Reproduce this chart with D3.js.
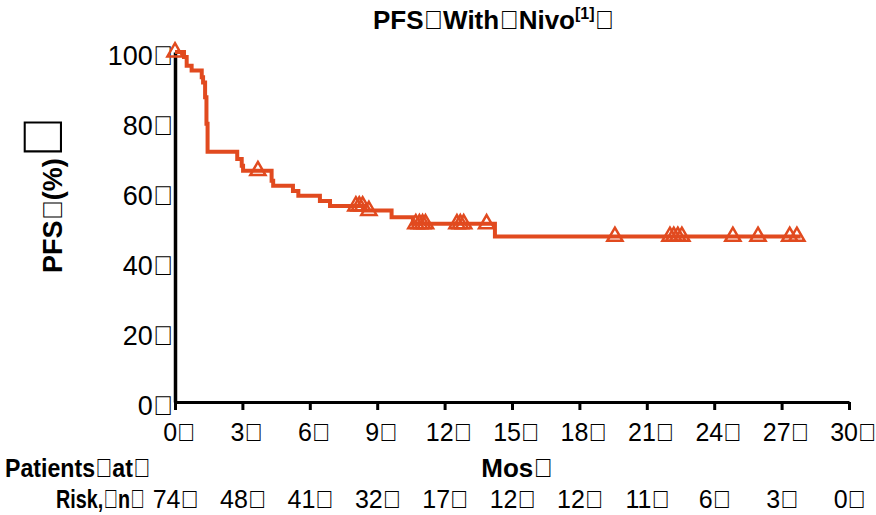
<!DOCTYPE html>
<html>
<head>
<meta charset="utf-8">
<script src="https://cdn.jsdelivr.net/npm/d3@7"></script>
<style>
  body { margin: 0; background: #fff; }
  svg text { font-family: "Liberation Sans", Arial, sans-serif; fill: #000; }
</style>
</head>
<body>
<div id="chart"></div>
<script>
// the source slide shows a box glyph where spaces used to be
var T = "\uF020";

var xTicks = [0, 3, 6, 9, 12, 15, 18, 21, 24, 27, 30];
var yTicks = [0, 20, 40, 60, 80, 100];
var atRisk = [74, 48, 41, 32, 17, 12, 12, 11, 6, 3, 0];

// Kaplan-Meier steps: month, PFS %
var stepTimes = [0, 0.40, 0.52, 0.74, 1.19, 1.25, 1.34, 1.40, 1.45, 2.77, 2.97, 3.03, 4.30, 4.37, 5.25, 5.49, 6.45, 6.90, 8.45, 9.64, 10.59, 14.24];
var stepPFS   = [100, 98.6, 96.1, 94.7, 92.8, 91.3, 87.1, 79.5, 71.5, 69.4, 67.5, 66.1, 63.2, 61.8, 60.3, 58.9, 57.4, 56.0, 54.7, 52.8, 50.9, 47.3];
var censorTimes = [0, 3.69, 8.05, 8.2, 8.35, 8.63, 10.72, 10.88, 11.02, 11.15, 12.55, 12.7, 12.85, 13.87,
                   19.58, 22.03, 22.2, 22.38, 22.56, 24.83, 25.95, 27.36, 27.68];
var lastTime = 27.85;

var width = 876, height = 515;
var orange = "#e14a1f";

var svg = d3.select("#chart").append("svg")
  .attr("width", width)
  .attr("height", height);

var x = d3.scaleLinear().domain([0, 30]).range([175, 849]);
var y = d3.scaleLinear().domain([0, 100]).range([402, 52]);

function pfsAt(t) {
  var v = stepPFS[0];
  for (var i = 0; i < stepTimes.length; i++) {
    if (stepTimes[i] <= t) v = stepPFS[i];
  }
  return v;
}

// axes
var xAxis = svg.append("g")
  .attr("transform", "translate(0," + y(0) + ")")
  .call(d3.axisBottom(x).tickValues(xTicks).tickSize(8).tickSizeOuter(0).tickPadding(13)
    .tickFormat(function(d) { return d + T; }));
xAxis.select(".domain").attr("stroke", "#000").attr("stroke-width", 3);
xAxis.selectAll(".tick line").attr("stroke", "#000").attr("stroke-width", 3);
xAxis.selectAll("text").attr("font-size", 25).attr("dx", 4).attr("fill", "#000");

var yAxis = svg.append("g")
  .attr("transform", "translate(" + x(0) + ",0)")
  .call(d3.axisLeft(y).tickValues(yTicks).tickSize(0).tickSizeOuter(0).tickPadding(2)
    .tickFormat(function(d) { return d + T; }));
yAxis.select(".domain").attr("stroke", "#000").attr("stroke-width", 3.5);
yAxis.selectAll("text").attr("font-size", 27).attr("dy", "0.45em").attr("fill", "#000");

// KM curve
var pts = [];
stepTimes.forEach(function(t, i) { pts.push([t, stepPFS[i]]); });
pts.push([lastTime, stepPFS[stepPFS.length - 1]]);

var line = d3.line()
  .x(function(d) { return x(d[0]); })
  .y(function(d) { return y(d[1]); })
  .curve(d3.curveStepAfter);

svg.append("path")
  .datum(pts)
  .attr("d", line)
  .attr("fill", "none")
  .attr("stroke", orange)
  .attr("stroke-width", 4);

svg.selectAll(".censor")
  .data(censorTimes)
  .enter()
  .append("path")
  .attr("class", "censor")
  .attr("d", d3.symbol().type(d3.symbolTriangle).size(100))
  .attr("transform", function(d) { return "translate(" + x(d) + "," + y(pfsAt(d)) + ")"; })
  .attr("fill", "none")
  .attr("stroke", orange)
  .attr("stroke-width", 2.5);

// title
var title = svg.append("text")
  .attr("x", 373)
  .attr("y", 29)
  .attr("font-size", 26)
  .attr("font-weight", "bold");
title.append("tspan").text("PFS" + T + "With" + T + "Nivo");
title.append("tspan").attr("font-size", 16).attr("dy", -10).text("[1]");
title.append("tspan").attr("dy", 10).text(T);

// y label
var yl = svg.append("text")
  .attr("transform", "translate(62,273) rotate(-90)")
  .attr("font-size", 27)
  .attr("font-weight", "bold");
yl.append("tspan").text("PFS" + T + "(%)");
yl.append("tspan").attr("font-size", 56).text(T);

// at-risk table (narrow, like the slide font)
svg.append("text")
  .attr("transform", "translate(5,477) scale(0.89,1)")
  .attr("font-size", 26).attr("font-weight", "bold")
  .text("Patients" + T + "at" + T);

svg.append("text")
  .attr("transform", "translate(56,508) scale(0.76,1)")
  .attr("font-size", 26).attr("font-weight", "bold")
  .text("Risk," + T + "n" + T);

svg.append("text")
  .attr("x", x(15) + 5).attr("y", 477)
  .attr("text-anchor", "middle")
  .attr("font-size", 26).attr("font-weight", "bold")
  .text("Mos" + T);

svg.selectAll(".risk")
  .data(atRisk)
  .enter()
  .append("text")
  .attr("class", "risk")
  .attr("x", function(d, i) { return x(xTicks[i]) + 1; })
  .attr("y", 508)
  .attr("text-anchor", "middle")
  .attr("font-size", 25)
  .text(function(d) { return d + T; });
</script>
</body>
</html>
